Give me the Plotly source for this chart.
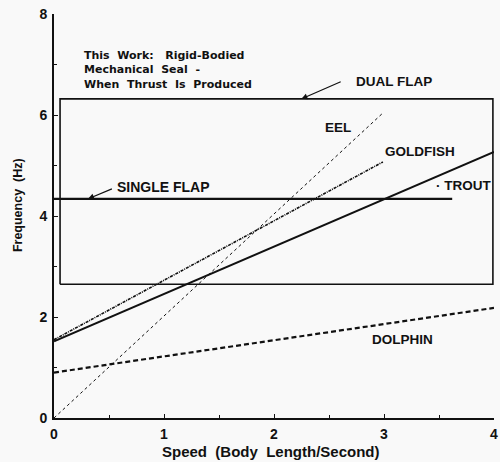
import plotly.graph_objects as go

# Data
eel_x = [0.0, 2.99]
eel_y = [0.0, 6.04]
goldfish_x = [0.0, 2.99]
goldfish_y = [1.55, 5.07]
trout_x = [0.0, 4.0]
trout_y = [1.52, 5.27]
dolphin_x = [0.0, 4.0]
dolphin_y = [0.90, 2.18]
single_flap_x = [0.0, 3.62]
single_flap_y = [4.34, 4.34]
dual_flap_x = [0.055, 3.99, 3.99, 0.055, 0.055]
dual_flap_y = [2.65, 2.65, 6.32, 6.32, 2.65]

x_ticks = [0, 1, 2, 3, 4]
y_ticks = [0, 2, 4, 6, 8]

BG = "#f9f9f9"
INK = "#111111"
FONT = "Liberation Sans"

fig = go.Figure()
fig.add_trace(go.Scatter(x=dual_flap_x, y=dual_flap_y, mode="lines",
                         line=dict(color=INK, width=1.6), hoverinfo="skip"))
fig.add_trace(go.Scatter(x=single_flap_x, y=single_flap_y, mode="lines",
                         line=dict(color=INK, width=2.2)))
fig.add_trace(go.Scatter(x=eel_x, y=eel_y, mode="lines",
                         line=dict(color=INK, width=1.0, dash="dot")))
fig.add_trace(go.Scatter(x=goldfish_x, y=goldfish_y, mode="lines",
                         line=dict(color=INK, width=1.6, dash="3px,1px,1px,1px")))
fig.add_trace(go.Scatter(x=trout_x, y=trout_y, mode="lines",
                         line=dict(color=INK, width=2.0)))
fig.add_trace(go.Scatter(x=dolphin_x, y=dolphin_y, mode="lines",
                         line=dict(color=INK, width=2.2, dash="5px,3px")))

lab = dict(family=FONT, size=13.5, color=INK)
fig.add_annotation(x=0.255, y=6.89, xanchor="left", yanchor="middle", showarrow=False,
                   align="left",
                   text="<b>This  Work:   Rigid-Bodied<br>Mechanical  Seal  -<br>When  Thrust  Is  Produced</b>",
                   font=dict(family="DejaVu Sans", size=11, color=INK))
# arrows
fig.add_annotation(x=2.25, y=6.32, ax=2.62, ay=6.67, axref="x", ayref="y", text="",
                   showarrow=True, arrowhead=2, arrowsize=1, arrowwidth=1.2,
                   arrowcolor=INK, standoff=0)
fig.add_annotation(x=0.31, y=4.34, ax=0.54, ay=4.55, axref="x", ayref="y", text="",
                   showarrow=True, arrowhead=2, arrowsize=1, arrowwidth=1.2,
                   arrowcolor=INK, standoff=0)
fig.add_annotation(x=2.73, y=6.67, xanchor="left", text="<b>DUAL FLAP</b>",
                   showarrow=False, font=lab)
fig.add_annotation(x=0.555, y=4.57, xanchor="left", text="<b>SINGLE FLAP</b>",
                   showarrow=False, font=dict(family=FONT, size=14, color=INK))
fig.add_annotation(x=2.58, y=5.76, text="<b>EEL</b>", showarrow=False, font=lab)
fig.add_annotation(x=3.33, y=5.27, text="<b>GOLDFISH</b>", showarrow=False, font=lab)
fig.add_annotation(x=3.45, y=4.61, xanchor="left", text="<b>· TROUT</b>",
                   showarrow=False, font=lab)
fig.add_annotation(x=3.17, y=1.56, text="<b>DOLPHIN</b>", showarrow=False, font=lab)

# axis titles
fig.add_annotation(xref="paper", yref="paper", x=0.493, y=-0.083,
                   xanchor="center", yanchor="middle",
                   text="<b>Speed  (Body  Length/Second)</b>", showarrow=False,
                   font=dict(family=FONT, size=15, color=INK))
fig.add_annotation(xref="paper", yref="paper", x=-0.0818, y=0.527, textangle=-90,
                   xanchor="center", yanchor="middle",
                   text="<b>Frequency  (Hz)</b>", showarrow=False,
                   font=dict(family=FONT, size=12.5, color=INK))

axis_common = dict(showgrid=False, zeroline=False, showline=True, linecolor=INK,
                   linewidth=1.8, ticks="inside", ticklen=4, tickcolor=INK,
                   tickwidth=1.4, tickfont=dict(family=FONT, size=14, color=INK),
                   automargin=False,
                   minor=dict(ticks="inside", ticklen=3, tickcolor=INK, tickwidth=1.2))
fig.update_xaxes(range=[0, 4], tickvals=x_ticks, ticktext=[f"<b>{v}</b>" for v in x_ticks],
                 minor_dtick=0.5, ticklabelstandoff=2, **axis_common)
fig.update_yaxes(range=[0, 8], tickvals=y_ticks, ticktext=[f"<b>{v}</b>" for v in y_ticks],
                 minor_dtick=1, ticklabelstandoff=2, **axis_common)
fig.update_layout(width=500, height=462, showlegend=False,
                  margin=dict(l=54, r=6, t=14, b=44),
                  paper_bgcolor=BG, plot_bgcolor=BG)

fig.write_html("out.html", config={"displayModeBar": False},
               post_script="document.body.style.margin='0';document.body.style.background='#f9f9f9';")
